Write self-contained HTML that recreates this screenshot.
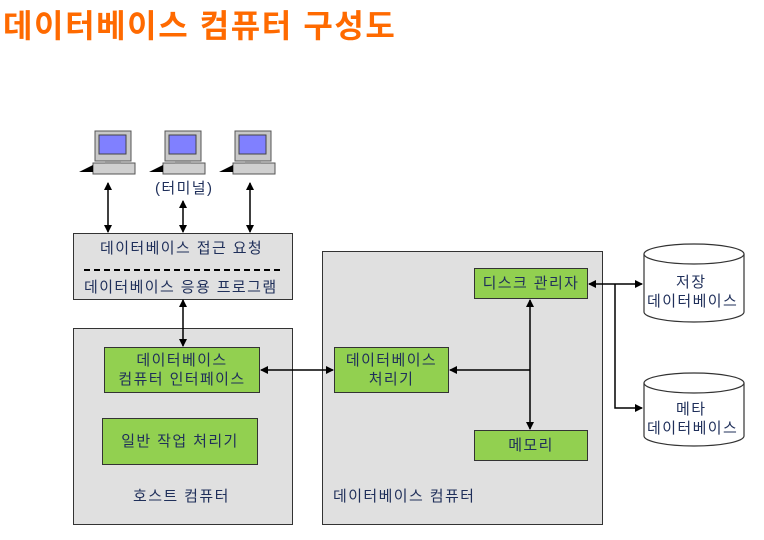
<!DOCTYPE html>
<html><head><meta charset="utf-8"><style>
body{margin:0;width:764px;height:540px;background:#fff;overflow:hidden;position:relative;font-family:"Liberation Sans","Noto Sans CJK KR",sans-serif}
.t{position:absolute;left:3px;top:1px;font-size:32px;font-weight:bold;color:#ff6a00;letter-spacing:1.6px;white-space:nowrap}
.b{position:absolute;background:#e0e0e0;border:1px solid #333;box-sizing:border-box}
.g{position:absolute;background:#92d050;border:1px solid #333;box-sizing:border-box;display:flex;align-items:center;justify-content:center;text-align:center;font-size:15px;letter-spacing:1.4px;color:#1f2f5a;line-height:19px;white-space:nowrap}
.l{position:absolute;font-size:15px;letter-spacing:1.4px;color:#1f2f5a;white-space:nowrap}
</style></head><body>
<div class="t">데이터베이스 컴퓨터 구성도</div>
<div class="b" style="left:73px;top:233px;width:220px;height:67px"></div>
<div class="l" style="left:100px;top:237px">데이터베이스 접근 요청</div>
<div class="l" style="left:84px;top:276px">데이터베이스 응용 프로그램</div>
<div class="b" style="left:73px;top:328px;width:220px;height:197px"></div>
<div class="b" style="left:322px;top:251px;width:281px;height:274px"></div>
<div class="g" style="left:104px;top:347px;width:156px;height:46px">데이터베이스<br>컴퓨터 인터페이스</div>
<div class="g" style="left:102px;top:418px;width:156px;height:47px">일반 작업 처리기</div>
<div class="g" style="left:334px;top:347px;width:115px;height:46px">데이터베이스<br>처리기</div>
<div class="g" style="left:474px;top:268px;width:114px;height:31px">디스크 관리자</div>
<div class="g" style="left:474px;top:430px;width:114px;height:31px">메모리</div>
<div class="l" style="left:133px;top:485px">호스트 컴퓨터</div>
<div class="l" style="left:333px;top:485px">데이터베이스 컴퓨터</div>
<div class="l" style="left:155px;top:177px">(터미널)</div>
<svg width="764" height="540" style="position:absolute;left:0;top:0">
<defs>
<marker id="a" markerWidth="8" markerHeight="8" refX="7" refY="4" orient="auto-start-reverse" markerUnits="userSpaceOnUse"><path d="M0,0L8,4L0,8z" fill="#000"/></marker>
<g id="pc">
<rect x="16" y="0" width="36" height="30" fill="#c8c8c8" stroke="#555"/>
<rect x="20" y="4" width="27" height="19" fill="#8080ff" stroke="#444"/>
<rect x="14" y="32" width="42" height="11" fill="#d0d0d0" stroke="#555"/>
<path d="M0,41L14,34L14,41z" fill="#000"/>
<rect x="26" y="30" width="16" height="3" fill="#999"/>
</g>
</defs>
<use href="#pc" x="79" y="131"/>
<use href="#pc" x="149" y="131"/>
<use href="#pc" x="219" y="131"/>
<line x1="84" y1="270" x2="282" y2="270" stroke="#000" stroke-width="2" stroke-dasharray="6,4"/>
<g stroke="#000" stroke-width="1.5" fill="none">
<line x1="108" y1="183" x2="108" y2="232" marker-start="url(#a)" marker-end="url(#a)"/>
<line x1="183" y1="201" x2="183" y2="232" marker-start="url(#a)" marker-end="url(#a)"/>
<line x1="250" y1="183" x2="250" y2="232" marker-start="url(#a)" marker-end="url(#a)"/>
<line x1="183" y1="300" x2="183" y2="346" marker-start="url(#a)" marker-end="url(#a)"/>
<line x1="261" y1="370" x2="333" y2="370" marker-start="url(#a)" marker-end="url(#a)"/>
<line x1="450" y1="370" x2="530" y2="370" marker-start="url(#a)"/>
<line x1="530" y1="300" x2="530" y2="429" marker-start="url(#a)" marker-end="url(#a)"/>
<line x1="589" y1="284" x2="642" y2="284" marker-start="url(#a)" marker-end="url(#a)"/>
<polyline points="615,284 615,408 642,408" marker-end="url(#a)"/>
</g>
<g stroke="#333" fill="#fff" stroke-width="1.2">
<path d="M644,254 L644,312 A50,10 0 0 0 744,312 L744,254"/>
<ellipse cx="694" cy="254" rx="50" ry="10"/>
<path d="M644,383 L644,436 A50,10 0 0 0 744,436 L744,383"/>
<ellipse cx="694" cy="383" rx="50" ry="10"/>
</g>
</svg>
<div class="l" style="left:676px;top:271px">저장</div>
<div class="l" style="left:647px;top:290px">데이터베이스</div>
<div class="l" style="left:676px;top:398px">메타</div>
<div class="l" style="left:647px;top:417px">데이터베이스</div>
</body></html>
